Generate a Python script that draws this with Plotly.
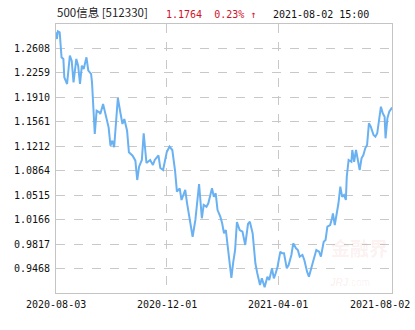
import pandas as pd
import plotly.graph_objects as go

start_date = "2020-08-03"
# days since start date for each traced point
day_offsets = [0, 1, 2, 4, 6, 8, 9, 12, 15, 17, 19, 22, 24, 26, 28, 30, 33, 35, 38, 39,
               42, 44, 47, 48, 51, 54, 57, 59, 61, 63, 65, 67, 70, 72, 74, 77, 79, 83, 86, 88,
               90, 93, 95, 98, 102, 105, 107, 111, 113, 116, 120, 123, 126, 129, 131, 134, 136, 138, 140, 142,
               143, 145, 148, 151, 153, 155, 158, 160, 163, 165, 169, 171, 173, 175, 178, 180, 182, 184, 187, 190,
               192, 194, 196, 199, 202, 205, 208, 210, 213, 216, 218, 221, 223, 226, 229, 231, 234, 236, 238, 240,
               243, 245, 247, 250, 252, 255, 257, 260, 262, 264, 267, 269, 272, 274, 278, 282, 285, 287, 290, 292,
               294, 297, 299, 300, 302, 304, 306, 308, 310, 312, 314, 315, 317, 320, 321, 323, 325, 327, 329, 331,
               333, 335, 337, 339, 341, 344, 346, 348, 351, 352, 354, 356, 357, 359, 361, 364]
nav_values = [1.2839, 1.2743, 1.2853, 1.2839, 1.2482, 1.2458, 1.2197, 1.2101, 1.2505, 1.2433,
              1.2125, 1.2458, 1.2362, 1.2101, 1.2362, 1.2315, 1.2482, 1.2291, 1.2244, 1.2125,
              1.1388, 1.1720, 1.1697, 1.1673, 1.1816, 1.1626, 1.1483, 1.1221, 1.1292, 1.1198,
              1.1530, 1.1901, 1.1673, 1.1530, 1.1602, 1.1435, 1.1126, 1.1078, 1.1007, 1.0731,
              1.0921, 1.1017, 1.1398, 1.0974, 1.1017, 1.0945, 1.1017, 1.1081, 1.0902, 1.0874,
              1.1131, 1.1209, 1.1159, 1.0860, 1.0564, 1.0613, 1.0446, 1.0517, 1.0589, 1.0399,
              1.0327, 1.0161, 0.9922, 1.0161, 1.0446, 1.0674, 1.0185, 1.0375, 1.0350, 1.0399,
              1.0613, 1.0493, 1.0541, 1.0303, 1.0208, 1.0113, 0.9971, 1.0018, 0.9675, 0.9333,
              0.9561, 0.9732, 1.0132, 1.0018, 0.9994, 0.9804, 1.0103, 1.0136, 0.9971, 0.9543,
              0.9404, 0.9233, 0.9329, 0.9200, 0.9352, 0.9304, 0.9471, 0.9329, 0.9400, 0.9494,
              0.9708, 0.9685, 0.9685, 0.9471, 0.9518, 0.9661, 0.9828, 0.9757, 0.9732, 0.9637,
              0.9661, 0.9590, 0.9423, 0.9352, 0.9543, 0.9732, 0.9708, 0.9637, 0.9851, 0.9875,
              1.0065, 1.0089, 1.0185, 1.0256, 1.0089, 1.0232, 1.0399, 1.0636, 1.0493, 1.0517,
              1.0446, 1.0778, 1.1017, 1.0992, 1.1159, 1.0992, 1.1159, 1.1017, 1.0874, 1.1041,
              1.1088, 1.1184, 1.1231, 1.1540, 1.1492, 1.1373, 1.1349, 1.1398, 1.1706, 1.1777,
              1.1683, 1.1634, 1.1326, 1.1611, 1.1706, 1.1764]

y_ticks = [0.9468, 0.9817, 1.0166, 1.0515, 1.0864, 1.1212, 1.1561, 1.1910, 1.2259, 1.2608]
y_range = [0.9119, 1.2957]
x_ticks = ["2020-08-03", "2020-12-01", "2021-04-01", "2021-08-02"]
x_range = ["2020-08-03", "2021-08-02"]

fund_name = "500信息 [512330]"
last_price = "1.1764"
change_pct = "0.23% ↑"
timestamp = "2021-08-02 15:00"

dates = pd.Timestamp(start_date) + pd.to_timedelta(day_offsets, unit="D")

mono = "DejaVu Sans Mono"
fig = go.Figure()
fig.add_trace(go.Scatter(x=dates, y=nav_values, mode="lines",
                         line=dict(color="#6AB1F2", width=2), hoverinfo="skip"))

annotations = []
for i, t in enumerate(x_ticks):
    a = dict(x=t, xref="x", y=0, yref="paper", text=t, showarrow=False,
             yanchor="top", yshift=-4, font=dict(family=mono, size=10, color="#111"))
    if i == len(x_ticks) - 1:
        a.update(xanchor="right", xshift=20)
    else:
        a.update(xanchor="center")
    annotations.append(a)

# header
annotations.append(dict(x=-0.003, xref="paper", y=1, yref="paper", yanchor="bottom", yshift=2,
                        xanchor="left", showarrow=False, text=fund_name,
                        font=dict(family="Noto Sans CJK SC", size=11.5, color="#222")))
annotations.append(dict(x=0.32, xref="paper", y=1, yref="paper", yanchor="bottom", yshift=2,
                        xanchor="left", showarrow=False,
                        text=last_price + "  " + change_pct,
                        font=dict(family=mono, size=10, color="#D0112B")))
annotations.append(dict(x=0.64, xref="paper", y=1, yref="paper", yanchor="bottom", yshift=2,
                        xanchor="left", showarrow=False, text=timestamp,
                        font=dict(family=mono, size=10, color="#111")))
# watermark
annotations.append(dict(x=0.995, xref="paper", y=0.11, yref="paper", xanchor="right", yanchor="bottom",
                        showarrow=False, text="<b>金融界</b>",
                        font=dict(family="Noto Sans CJK SC", size=19, color="rgba(210,60,60,0.08)")))
annotations.append(dict(x=0.81, xref="paper", y=0.01, yref="paper", xanchor="left", yanchor="bottom",
                        showarrow=False, text="<b><i>JRJ</i></b>.com",
                        font=dict(family="Liberation Sans", size=10, color="rgba(210,60,60,0.08)")))

fig.update_layout(
    width=415, height=330,
    margin=dict(l=56, r=23, t=24, b=37),
    paper_bgcolor="white", plot_bgcolor="white",
    showlegend=False,
    annotations=annotations,
    xaxis=dict(range=x_range, type="date", tickvals=x_ticks[1:3], showticklabels=False,
               showgrid=True, gridcolor="#C8C8C8", griddash="dash", gridwidth=1,
               showline=True, linecolor="#C4C4C4", linewidth=1, mirror=True,
               zeroline=False, ticks=""),
    yaxis=dict(range=y_range, tickvals=y_ticks, ticktext=[f"{v:.4f}" for v in y_ticks],
               showgrid=True, gridcolor="#C8C8C8", griddash="dash", gridwidth=1,
               showline=True, linecolor="#C4C4C4", linewidth=1, mirror=True,
               zeroline=False, ticks="", ticklabelstandoff=3,
               tickfont=dict(family=mono, size=10, color="#111")),
)

fig.write_html("out.html")
